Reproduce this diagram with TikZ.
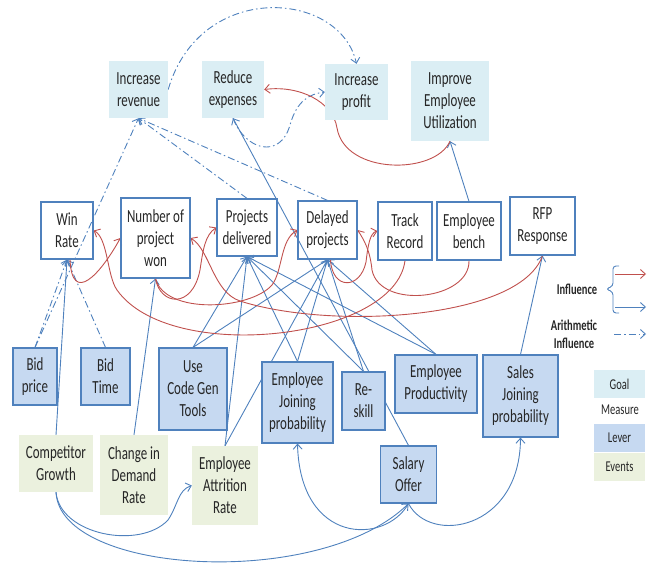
\documentclass[tikz,border=0pt]{standalone}
\usepackage{fontspec}
\setmainfont{Carlito}[FakeStretch=0.7]
\usetikzlibrary{arrows.meta,calc}
\definecolor{lblue}{HTML}{4F81BD}
\definecolor{lred}{HTML}{C0504D}
\definecolor{goalfill}{HTML}{DBEEF4}
\definecolor{leverfill}{HTML}{C6D9F1}
\definecolor{eventfill}{HTML}{EBF1DE}
\definecolor{txt}{HTML}{262626}
\pgfdeclarelayer{background}
\pgfsetlayers{background,main}
\tikzset{
 box/.style={align=center, inner sep=0pt, text=txt, font=\fontsize{18.5}{22}\selectfont},
 goal/.style={box, fill=goalfill},
 measure/.style={box, draw=lblue, line width=1.2pt},
 lever/.style={box, fill=leverfill, draw=lblue, line width=1.2pt},
 event/.style={box, fill=eventfill},
 sz/.style 2 args={minimum width=#1pt, minimum height=#2pt},
 infl/.style={draw=lblue, line width=0.9pt, -{Straight Barb[length=5pt,width=9pt]}},
 redinfl/.style={draw=lred, line width=0.9pt, -{Straight Barb[length=5pt,width=9pt]}},
 arith/.style={infl, dash pattern=on 7pt off 3pt on 1.5pt off 3pt},
 legtxt/.style={text=txt, font=\fontsize{15}{18}\selectfont, align=center, inner sep=0pt},
 legbold/.style={legtxt, font=\fontsize{15}{18}\selectfont\bfseries},
}
\begin{document}
\begin{tikzpicture}[x=1pt,y=-1pt]
\useasboundingbox (0,0) rectangle (652,563);
% goals
\node[goal, sz={59}{57}] (rev) at (138.5,89.5) {Increase\\revenue};
\node[goal, sz={62}{57}] (rexp) at (233,89.5) {Reduce\\expenses};
\node[goal, sz={63}{56}] (prof) at (356.5,92) {Increase\\profit};
\node[goal, sz={78}{80}] (ieu) at (450,101) {Improve\\Employee\\Utilization};
% measures
\node[measure, sz={52}{57}] (win) at (67,230.5) {Win\\Rate};
\node[measure, sz={69}{80}] (won) at (155.5,238) {Number of\\project\\won};
\node[measure, sz={60}{57}] (del) at (247,227.5) {Projects\\delivered};
\node[measure, sz={59}{58}] (dly) at (327.5,230) {Delayed\\projects};
\node[measure, sz={54}{58}] (trk) at (405,231) {Track\\Record};
\node[measure, sz={64}{58}] (bench) at (469,231) {Employee\\bench};
\node[measure, sz={65}{58}] (rfp) at (542.5,226) {RFP\\Response};
% levers
\node[lever, sz={44}{57}] (bidp) at (35,376.5) {Bid\\price};
\node[lever, sz={49}{57}] (bidt) at (105.5,376.5) {Bid\\Time};
\node[lever, sz={68}{82}] (ucg) at (193,389) {Use\\Code Gen\\Tools};
\node[lever, sz={71}{81}] (ejp) at (297.5,402.5) {Employee\\Joining\\probability};
\node[lever, sz={43}{58}] (rsk) at (363.5,401) {Re-\\skill};
\node[lever, sz={82}{58}] (eprod) at (436,384) {Employee\\Productivity};
\node[lever, sz={75}{82}] (sjp) at (520.5,396) {Sales\\Joining\\probability};
\node[lever, sz={56}{57}] (sal) at (408.5,474.5) {Salary\\Offer};
% events
\node[event, sz={74}{57}] (comp) at (56,463.5) {Competitor\\Growth};
\node[event, sz={68}{80}] (dem) at (134,475) {Change in\\Demand\\Rate};
\node[event, sz={66}{79}] (attr) at (225,485.5) {Employee\\Attrition\\Rate};
% legend
\node[legbold] (linfl) at (577,289) {Influence};
\node[legbold] (larith) at (574,334) {Arithmetic\\Influence};
\node[goal, sz={51}{28}, font=\fontsize{15}{18}\selectfont] (lgoal) at (619.5,384) {Goal};
\node[legtxt] (lmeas) at (620,410) {Measure};
\node[lever, draw=none, sz={51}{28}, font=\fontsize{15}{18}\selectfont] (llever) at (619.5,438) {Lever};
\node[event, sz={51}{28}, font=\fontsize{15}{18}\selectfont] (levent) at (619.5,467) {Events};
\coordinate (lra) at (615,274); \coordinate (lrb) at (646,274);
\coordinate (lba) at (615,307); \coordinate (lbb) at (646,307);
\coordinate (lda) at (614,334); \coordinate (ldb) at (646,334);
\draw[redinfl] (lra) -- (lrb);
\draw[infl] (lba) -- (lbb);
\draw[arith] (lda) -- (ldb);
\draw[lblue, line width=0.9pt, rounded corners=3pt] (619,266) -- (613,266) -- (613,286) -- (606,289) -- (613,292) -- (613,313) -- (619,313);

\begin{pgfonlayer}{background}
% blue influence
\draw[infl] (comp.north) -- (win.south);
\draw[infl] (dem.north) -- (won.south);
\draw[infl] (ucg.north) -- (del.south);
\draw[infl] (ucg.north) -- (dly.south);
\draw[infl] (attr.north) -- (del.south);
\draw[infl] (attr.north) -- (dly.south);
\draw[infl] (ejp.north) -- (del.south);
\draw[infl] (ejp.north) -- (dly.south);
\draw[infl] (rsk.north) -- (del.south);
\draw[infl] (rsk.north) -- (dly.south);
\draw[infl] (eprod.north) -- (del.south);
\draw[infl] (eprod.north) -- (dly.south);
\draw[infl] (sal.north) -- (rexp.south);
\draw[infl] (sjp.north) -- (rfp.south);
\draw[infl] (bench.north) -- (ieu.south);
\draw[infl] (sal.south) .. controls (385,545) and (300,545) .. (ejp.south);
\draw[infl] (sal.south) .. controls (430,545) and (520,530) .. (sjp.south);
\draw[infl] (comp.south) .. controls (60,575) and (320,590) .. (sal.south);
\draw[infl] (comp.south) .. controls (60,535) and (140,550) .. (168,520) .. controls (178,505) and (178,490) .. (attr.west);
% arithmetic influence
\draw[arith] (bidp.north) -- (win.south);
\draw[arith] (bidt.north) -- (win.south);
\draw[arith] (bidp.north) -- (rev.south);
\draw[arith] (del.north) -- (rev.south);
\draw[arith] (dly.north) -- (rev.south);
\draw[arith] (rev.east) .. controls (200,-20) and (340,-10) .. (prof.north);
\draw[arith] (rexp.south) .. controls (245,150) and (280,160) .. (290,125) .. controls (297,100) and (310,94) .. (prof.west);
% red influence
\draw[redinfl] (ieu.south) .. controls (435,175) and (345,175) .. (337,128) .. controls (333,102) and (300,85) .. (rexp.east);
\draw[redinfl] ($(win.south)+(3,0)$) .. controls (72,305) and (100,275) .. (won.west);
\draw[redinfl] (trk.south) .. controls (395,340) and (170,365) .. (117,290) .. controls (107,276) and (108,238) .. (win.east);
\draw[redinfl] (rfp.south) .. controls (520,320) and (330,330) .. (240,301) .. controls (213,292) and (210,250) .. (won.east);
\draw[redinfl] (won.south) .. controls (160,305) and (192,310) .. (200,270) .. controls (203,250) and (205,235) .. (del.west);
\draw[redinfl] (won.south) .. controls (165,315) and (250,310) .. (272,285) .. controls (283,270) and (280,240) .. (dly.west);
\draw[redinfl] ($(dly.south)+(3,0)$) .. controls (332,290) and (360,290) .. (366,262) .. controls (368,245) and (370,233) .. (trk.west);
\draw[redinfl] (bench.south) .. controls (470,300) and (380,310) .. (372,270) .. controls (370,250) and (364,240) .. (dly.east);
\end{pgfonlayer}
\end{tikzpicture}
\end{document}
